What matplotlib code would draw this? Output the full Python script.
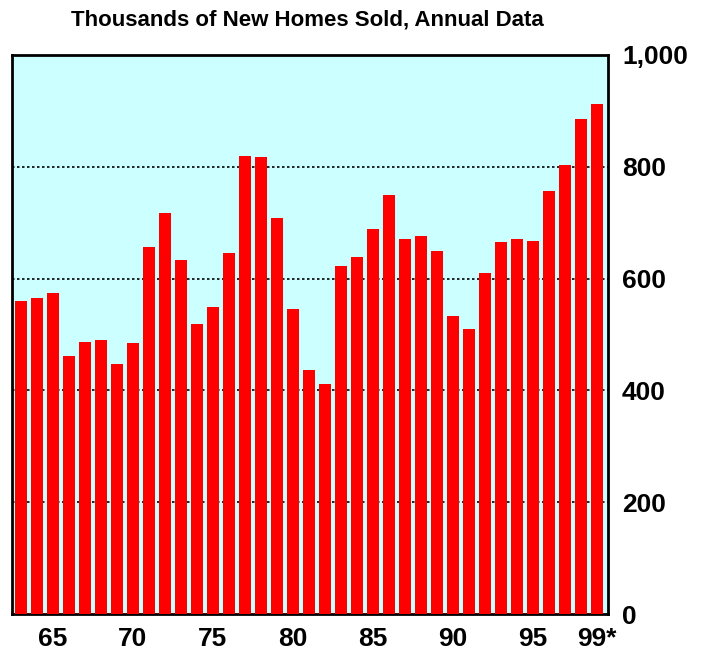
import numpy as np
import matplotlib.pyplot as plt

# Datos: ventas anuales de casas nuevas (miles)
anios = list(range(1963, 2000))
ventas = [560, 565, 575, 461, 487, 490, 448, 485, 656, 718,
          634, 519, 549, 646, 819, 817, 709, 545, 436, 412,
          623, 639, 688, 750, 671, 676, 650, 534, 509, 610,
          666, 670, 667, 757, 804, 886, 913]
xticks = [1965, 1970, 1975, 1980, 1985, 1990, 1995, 1999]
xlabels = ['65', '70', '75', '80', '85', '90', '95', '99*']
yticks = [0, 200, 400, 600, 800, 1000]
ylabels = ['0', '200', '400', '600', '800', '1,000']

plt.rcParams['font.family'] = ['Liberation Sans', 'DejaVu Sans']

fig = plt.figure(figsize=(7.03, 6.54), dpi=100)
ax = fig.add_axes([0.017, 0.061, 0.848, 0.855])
ax.set_facecolor('#ccffff')

ax.bar(anios, ventas, width=0.8, color='#ff0000', zorder=3)

for y in yticks[1:-1]:
    ax.axhline(y, color='black', linestyle=(0, (1.5, 1.5)), linewidth=1.2, zorder=2)

ax.set_xlim(1963 - 0.56, 1999 + 0.69)
ax.set_ylim(0, 1000)

ax.set_xticks(xticks)
ax.set_xticklabels(xlabels, fontsize=19, fontweight='bold')
ax.set_yticks(yticks)
ax.set_yticklabels(ylabels, fontsize=19, fontweight='bold')
ax.yaxis.tick_right()
ax.tick_params(axis='both', length=0)
ax.tick_params(axis='x', pad=9)
ax.tick_params(axis='y', pad=10)

for s in ax.spines.values():
    s.set_linewidth(2)

fig.text(0.437, 0.969, 'Thousands of New Homes Sold, Annual Data',
         ha='center', va='center', fontsize=16, fontweight='bold')

plt.savefig('out.png', dpi=100)
